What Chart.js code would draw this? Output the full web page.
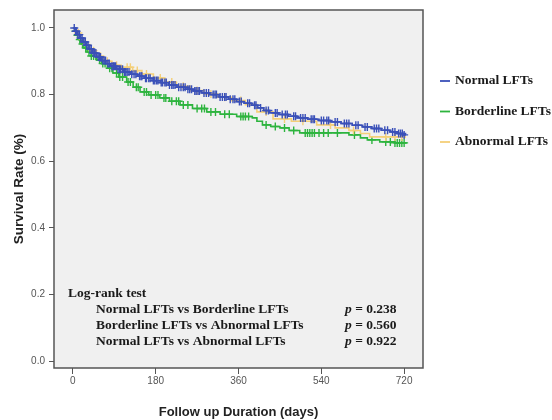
<!DOCTYPE html>
<html lang="en">
<head>
    <meta charset="UTF-8">
    <title>Survival by LFT group</title>
    <script src="https://cdn.jsdelivr.net/npm/chart.js"></script>
    <style>
        body { margin: 0; background: #fff; }
        .chart-container { width: 552px; height: 420px; }
    </style>
</head>
<body>
    <div class="chart-container">
        <canvas id="kmChart" width="552" height="420"></canvas>
    </div>

    <script>
        // Kaplan-Meier steps: [day, survival]
        const normalDays = [0, 5, 10, 16, 22, 28, 35, 43, 52, 62, 72, 82, 95, 110, 125, 140, 155, 172, 190, 208, 226, 245, 262, 280, 298, 318, 338, 356, 372, 388, 402, 415, 428, 448, 468, 487, 510, 535, 559, 583, 607, 630, 650, 670, 689, 705, 718, 724];
        const normalSurv = [1.0, 0.99, 0.98, 0.97, 0.958, 0.948, 0.937, 0.925, 0.913, 0.902, 0.893, 0.885, 0.876, 0.868, 0.861, 0.855, 0.849, 0.842, 0.836, 0.829, 0.822, 0.816, 0.811, 0.805, 0.8, 0.793, 0.786, 0.779, 0.774, 0.768, 0.76, 0.752, 0.745, 0.74, 0.735, 0.73, 0.726, 0.722, 0.718, 0.713, 0.708, 0.703, 0.698, 0.693, 0.688, 0.683, 0.679, 0.679];
        const normalCensor = [3, 6, 8, 11, 14, 17, 20, 24, 27, 30, 33, 37, 40, 44, 47, 50, 55, 58, 60, 65, 68, 71, 76, 79, 85, 88, 90, 93, 98, 101, 104, 108, 112, 115, 118, 122, 128, 133, 137, 145, 148, 150, 158, 160, 165, 168, 175, 178, 182, 185, 192, 195, 200, 203, 210, 215, 218, 222, 230, 235, 240, 244, 250, 254, 258, 265, 268, 272, 275, 285, 290, 295, 305, 309, 312, 320, 325, 330, 333, 342, 348, 352, 362, 366, 380, 384, 395, 398, 408, 420, 425, 440, 444, 455, 462, 466, 480, 484, 495, 500, 505, 518, 522, 525, 540, 545, 552, 556, 570, 575, 590, 595, 600, 615, 620, 635, 640, 655, 660, 665, 678, 684, 695, 700, 708, 712, 716, 720];

        const borderDays = [0, 4, 8, 13, 18, 24, 31, 40, 52, 62, 75, 87, 100, 117, 131, 146, 165, 189, 210, 233, 260, 291, 320, 356, 390, 400, 412, 430, 450, 470, 493, 600, 625, 640, 667, 700, 726];
        const borderSurv = [1.0, 0.99, 0.978, 0.965, 0.952, 0.94, 0.928, 0.916, 0.904, 0.893, 0.879, 0.865, 0.853, 0.838, 0.822, 0.808, 0.799, 0.79, 0.78, 0.769, 0.758, 0.748, 0.741, 0.734, 0.73, 0.72, 0.709, 0.704, 0.7, 0.692, 0.685, 0.679, 0.67, 0.664, 0.658, 0.655, 0.655];
        const borderCensor = [6, 10, 15, 21, 28, 35, 40, 45, 50, 58, 65, 70, 80, 85, 95, 102, 108, 120, 125, 138, 142, 155, 160, 170, 180, 185, 198, 202, 215, 225, 230, 240, 250, 270, 280, 286, 300, 310, 330, 340, 365, 370, 375, 382, 420, 440, 460, 480, 505, 510, 515, 520, 525, 535, 545, 555, 575, 612, 650, 680, 690, 700, 705, 710, 715, 720];

        const abnormalDays = [0, 6, 14, 24, 36, 50, 66, 85, 105, 130, 150, 175, 200, 225, 255, 285, 315, 345, 375, 400, 435, 475, 530, 570, 600, 625, 645, 724];
        const abnormalSurv = [1.0, 0.985, 0.968, 0.95, 0.932, 0.915, 0.9, 0.888, 0.882, 0.872, 0.862, 0.85, 0.838, 0.825, 0.812, 0.802, 0.792, 0.782, 0.77, 0.748, 0.727, 0.72, 0.709, 0.7, 0.692, 0.683, 0.673, 0.673];
        const abnormalCensor = [12, 30, 45, 60, 75, 95, 118, 125, 140, 160, 190, 215, 240, 270, 300, 330, 365, 420, 460, 500, 560, 610, 680, 700, 715];

        const groupLabels = ['Normal LFTs', 'Borderline LFTs', 'Abnormal LFTs'];
        const groupColors = ['#3a50b8', '#2db43e', '#f4cf78'];

        const xTicks = [0, 180, 360, 540, 720];
        const yTicks = [0.0, 0.2, 0.4, 0.6, 0.8, 1.0];

        const logRankTitle = 'Log-rank test';
        const logRankPairs = ['Normal LFTs vs Borderline LFTs', 'Borderline LFTs vs Abnormal LFTs', 'Normal LFTs vs Abnormal LFTs'];
        const logRankP = ['0.238', '0.560', '0.922'];

        const serif = '"Liberation Serif", "Times New Roman", serif';
        const sans = '"Liberation Sans", Arial, sans-serif';

        function stepPoints(days, surv) {
            return days.map((d, i) => ({ x: d, y: surv[i] }));
        }
        // survival value at a censored time = last step at or before it
        function censorPoints(times, days, surv) {
            return times.map(t => {
                let v = surv[0];
                for (let i = 0; i < days.length; i++) {
                    if (days[i] <= t) v = surv[i];
                }
                return { x: t, y: v };
            });
        }

        const groups = [
            [normalDays, normalSurv, normalCensor],
            [borderDays, borderSurv, borderCensor],
            [abnormalDays, abnormalSurv, abnormalCensor]
        ];
        const drawOrder = [1, 3, 2]; // blue on top, green at the bottom

        const datasets = [];
        groups.forEach((g, i) => {
            datasets.push({
                label: groupLabels[i],
                data: stepPoints(g[0], g[1]),
                showLine: true,
                stepped: true,
                borderColor: groupColors[i],
                borderWidth: 1.6,
                pointRadius: 0,
                order: drawOrder[i]
            });
            datasets.push({
                label: '',
                data: censorPoints(g[2], g[0], g[1]),
                pointStyle: 'cross',
                pointRadius: 4,
                borderWidth: 1.4,
                borderColor: groupColors[i],
                backgroundColor: groupColors[i],
                order: drawOrder[i]
            });
        });

        const plotBox = {
            id: 'plotBox',
            beforeDatasetsDraw(chart) {
                const { ctx, chartArea: a } = chart;
                ctx.save();
                ctx.fillStyle = '#f0f0f0';
                ctx.fillRect(a.left, a.top, a.right - a.left, a.bottom - a.top);
                ctx.restore();
            },
            afterDraw(chart) {
                const { ctx, chartArea: a } = chart;
                ctx.save();
                ctx.strokeStyle = '#555';
                ctx.lineWidth = 1.5;
                ctx.strokeRect(a.left, a.top, a.right - a.left, a.bottom - a.top);

                // legend on the right
                ctx.font = 'bold 13.5px ' + serif;
                ctx.textBaseline = 'middle';
                groupLabels.forEach((lab, i) => {
                    const y = 81 + i * 30.5;
                    ctx.strokeStyle = groupColors[i];
                    ctx.lineWidth = 1.8;
                    ctx.beginPath();
                    ctx.moveTo(a.right + 17, y);
                    ctx.lineTo(a.right + 27, y);
                    ctx.stroke();
                    ctx.fillStyle = '#1a1a1a';
                    ctx.fillText(lab, a.right + 32, y);
                });

                // log-rank annotation
                ctx.fillStyle = '#1a1a1a';
                ctx.font = 'bold 13.5px ' + serif;
                ctx.fillText(logRankTitle, a.left + 14, 294);
                logRankPairs.forEach((txt, i) => {
                    const y = 310 + i * 16;
                    ctx.font = 'bold 13.5px ' + serif;
                    ctx.fillText(txt, a.left + 42, y);
                    ctx.font = 'italic bold 13.5px ' + serif;
                    ctx.fillText('p', a.left + 291, y);
                    const w = ctx.measureText('p').width;
                    ctx.font = 'bold 13.5px ' + serif;
                    ctx.fillText(' = ' + logRankP[i], a.left + 291 + w, y);
                });
                ctx.restore();
            }
        };

        const ctx = document.getElementById('kmChart').getContext('2d');
        new Chart(ctx, {
            type: 'scatter',
            data: { datasets: datasets },
            options: {
                responsive: false,
                animation: false,
                layout: { padding: { left: 0, top: 10, right: 129, bottom: 0 } },
                plugins: {
                    legend: { display: false },
                    tooltip: { enabled: false }
                },
                scales: {
                    x: {
                        type: 'linear',
                        min: -41,
                        max: 761,
                        afterBuildTicks: s => { s.ticks = xTicks.map(v => ({ value: v })); },
                        afterFit: s => { s.height = 52; },
                        ticks: { color: '#555', font: { size: 10, family: sans }, padding: 1, maxRotation: 0 },
                        grid: { drawOnChartArea: false, tickLength: 6, color: '#555' },
                        border: { display: false },
                        title: {
                            display: true,
                            text: 'Follow up Duration (days)',
                            color: '#222',
                            font: { size: 13, weight: 'bold', family: sans },
                            padding: { top: 0, bottom: 0 }
                        }
                    },
                    y: {
                        type: 'linear',
                        min: -0.021,
                        max: 1.054,
                        afterBuildTicks: s => { s.ticks = yTicks.map(v => ({ value: v })); },
                        afterFit: s => { s.width = 54; },
                        ticks: { color: '#555', font: { size: 10, family: sans }, padding: 4, callback: v => v.toFixed(1) },
                        grid: { drawOnChartArea: false, tickLength: 5, color: '#555' },
                        border: { display: false },
                        title: {
                            display: true,
                            text: 'Survival Rate (%)',
                            color: '#222',
                            font: { size: 13.5, weight: 'bold', family: sans },
                            padding: { top: 11, bottom: 0 }
                        }
                    }
                }
            },
            plugins: [plotBox]
        });
    </script>
</body>
</html>
